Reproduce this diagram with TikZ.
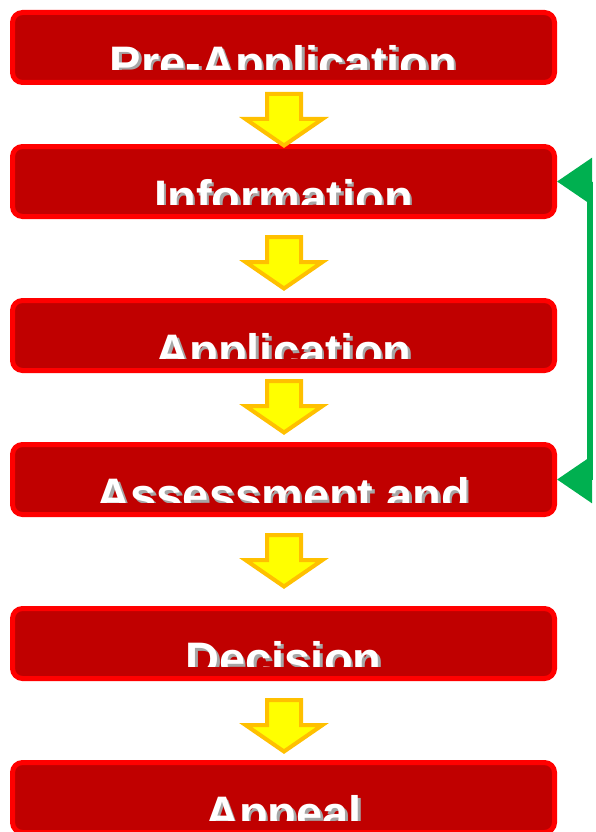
\documentclass[tikz,border=0pt]{standalone}
\usepackage{fontspec}
\newfontfamily\labfont{Liberation Sans}
\usetikzlibrary{arrows.meta}
\definecolor{boxfill}{HTML}{C00000}
\definecolor{boxline}{HTML}{FF0000}
\definecolor{arrfill}{HTML}{FFFF00}
\definecolor{arrline}{HTML}{FFC000}
\definecolor{railgreen}{HTML}{00B050}
\definecolor{shadowgray}{HTML}{A6A6A6}
\tikzset{
  stepbox/.style={draw=boxline, fill=boxfill, line width=5pt, rounded corners=10pt,
    minimum width=542pt, minimum height=70pt, inner sep=0pt},
  labtext/.style={anchor=base, inner sep=0pt, text=white,
    font=\labfont\bfseries\fontsize{47pt}{47pt}\selectfont},
  yarr/.style={draw=arrline, fill=arrfill, line width=4pt, line join=miter},
  rail/.style={draw=railgreen, line width=6pt,
    {Triangle[length=35pt,width=46pt]}-{Triangle[length=35pt,width=46pt]}}
}
\newcommand\steplabel[3]{%
  \begin{scope}
    \clip (#1.north west) rectangle ([yshift=15pt]#1.south east);
    \node[labtext] (#2) at ([yshift=-32pt]#1.center)
      {\makebox[0pt][l]{\hspace{2.5pt}\raisebox{-2.5pt}{\textcolor{shadowgray}{#3}}}#3};
  \end{scope}}
\begin{document}
\begin{tikzpicture}[x=1pt,y=-1pt]
  \clip (0,0) rectangle (595,832);
  \fill[white] (0,0) rectangle (595,832);

  \node[stepbox] (b1) at (283.5,47.5) {};
  \node[stepbox] (b2) at (283.5,181.5) {};
  \node[stepbox] (b3) at (283.5,335.5) {};
  \node[stepbox] (b4) at (283.5,479.5) {};
  \node[stepbox] (b5) at (283.5,643.5) {};
  \node[stepbox] (b6) at (283.5,797.5) {};

  \steplabel{b1}{t1}{Pre-Application}
  \steplabel{b2}{t2}{Information}
  \steplabel{b3}{t3}{Application}
  \steplabel{b4}{t4}{Assessment and}
  \steplabel{b5}{t5}{Decision}
  \steplabel{b6}{t6}{Appeal}

  \foreach \t in {92,235,379,533,698}{
    \draw[yarr] (267,{\t+2}) -- (301,{\t+2}) -- (301,{\t+27}) -- (322.5,{\t+27})
      -- (284,{\t+53.5}) -- (245.5,{\t+27}) -- (267,{\t+27}) -- cycle;
  }

  \draw[rail] (b2.east) -- ++(33,0) |- (b4.east);
\end{tikzpicture}
\end{document}
